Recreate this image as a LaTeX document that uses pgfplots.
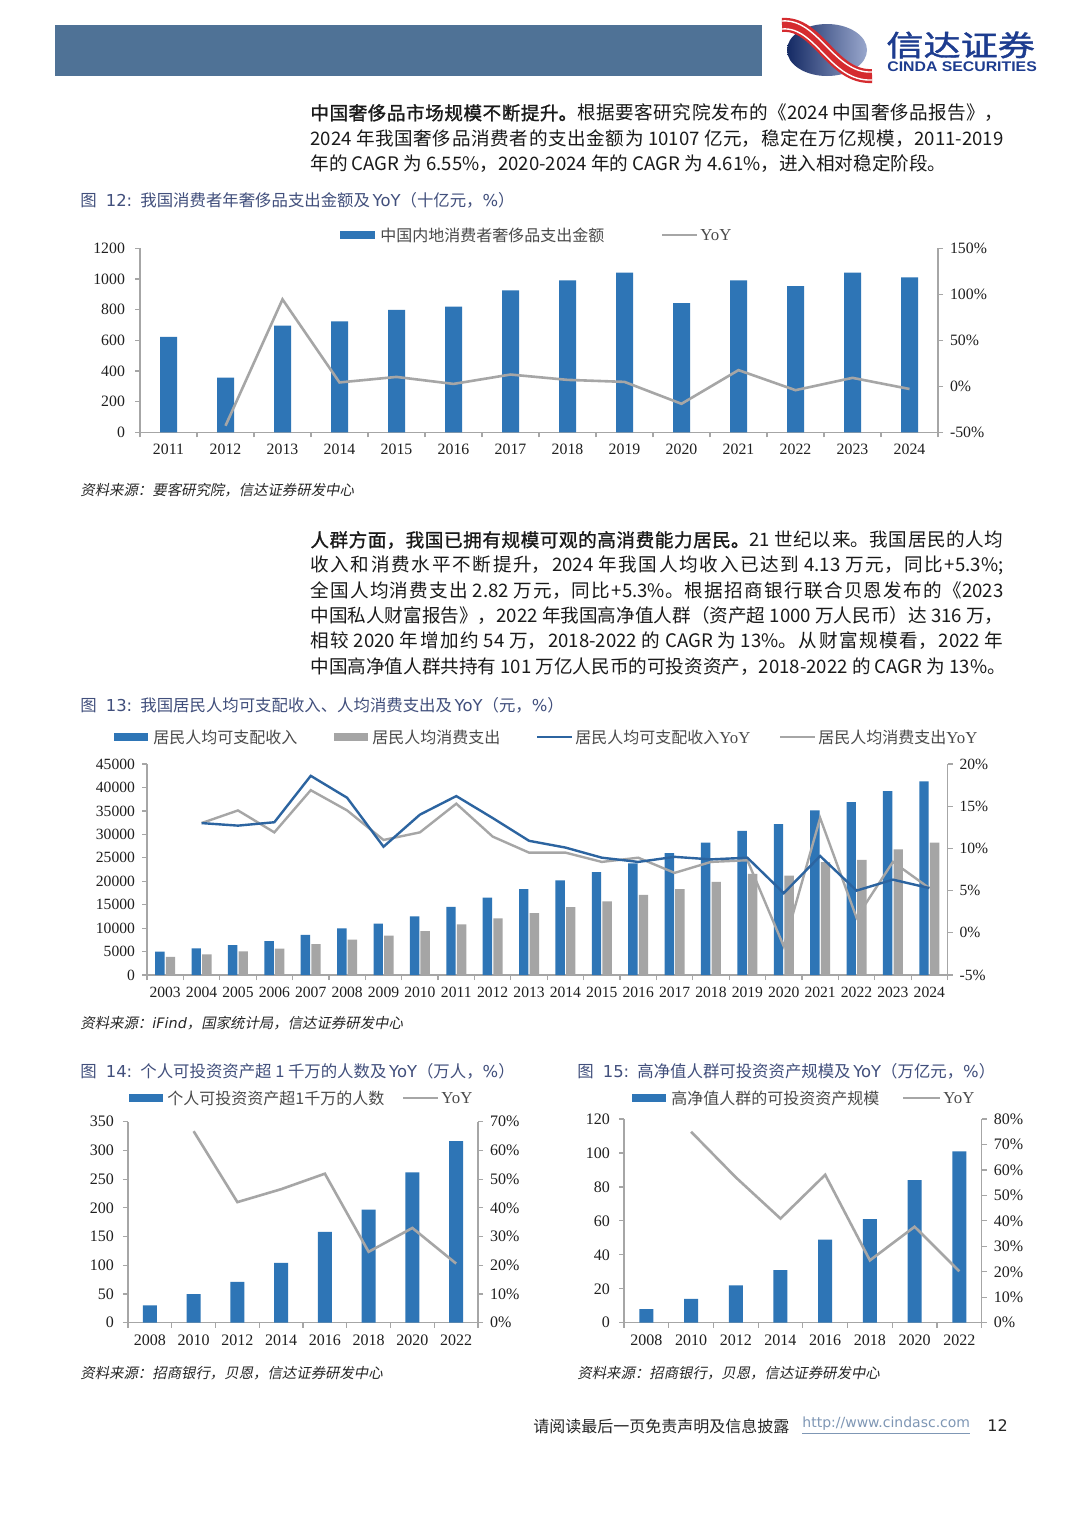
\documentclass[border=0pt]{standalone}
\usepackage{fontspec}
\usepackage{pgfplots}
\pgfplotsset{compat=1.18}
\setmainfont{Noto Sans CJK SC}
\newfontfamily\verd{DejaVu Sans}
\newfontfamily\tnr{Liberation Serif}
\newfontfamily\arial{Liberation Sans}
\newfontfamily\cjkb[FakeBold=1.3]{Noto Sans CJK SC}
\newfontfamily\cjkit[FakeSlant=0.2]{Noto Sans CJK SC}

\definecolor{barblue}{HTML}{2E75B6}
\definecolor{lineblue}{HTML}{2C64A0}
\definecolor{bargray}{HTML}{A5A5A5}
\definecolor{linegray}{HTML}{A6A6A6}
\definecolor{axgray}{HTML}{A6A6A6}
\definecolor{titleblue}{HTML}{414F7C}
\definecolor{headbar}{HTML}{4F7296}
\definecolor{logonavy}{HTML}{1D3C8F}
\definecolor{logored}{HTML}{D52B2F}
\definecolor{legtext}{HTML}{4A4A4A}
\definecolor{bodytext}{HTML}{1A1A1A}
\definecolor{urlcol}{HTML}{7F97B5}

\pgfplotsset{
  base/.style={scale only axis, clip=false,
    axis line style={draw=axgray, line width=0.6pt},
    tick style={draw=axgray, line width=0.6pt},
    tick align=outside, major tick length=2.5pt, minor tick length=2.5pt,
    scaled y ticks=false, scaled x ticks=false},
  leftax/.style={base, axis x line*=bottom, axis y line*=left,
    major x tick style={draw=none}, minor x tick style={draw=axgray, line width=0.6pt}},
  rightax/.style={base, axis y line*=right, axis x line=none},
}
\tikzset{
  bodyline/.style={anchor=west, inner sep=0pt, font=\fontsize{9.3}{11}\selectfont, text=bodytext},
  ttl/.style={anchor=west, inner sep=0pt, font=\fontsize{8.2}{10}\selectfont, text=titleblue},
  src/.style={anchor=west, inner sep=0pt, font=\cjkit\fontsize{7.2}{9}\selectfont, text=black!85},
  leg/.style={anchor=west, inner sep=0pt, font=\fontsize{8}{10}\selectfont, text=legtext},
}

\begin{document}
\XeTeXlinebreaklocale "zh"
\XeTeXlinebreakskip=0pt plus 3pt minus 0.2pt
\begin{tikzpicture}[x=0.5pt, y=-0.5pt]
\fill[white] (0,0) rectangle (1080,1527);
\useasboundingbox (0,0) rectangle (1080,1527);

% ---------- header ----------
\fill[headbar] (55,25) rectangle (762,76);
\shade[left color=logonavy!70!black, right color=logonavy!45!white] (827,50) ellipse (40 and 26);
\draw[logored, line width=7pt] (782,25) .. controls (818,22) and (832,78) .. (872,76);
\draw[white, line width=0.7pt] (782,21) .. controls (818,18) and (834,74) .. (872,72);
\draw[white, line width=0.7pt] (782,29) .. controls (816,26) and (830,82) .. (872,80);
\node[anchor=west, inner sep=0pt, text=logonavy, font=\cjkb\fontsize{14.5}{15}\selectfont] at (886,45) {\scalebox{1.28}[1]{信达证券}};
\node[anchor=west, inner sep=0pt, text=logonavy, font=\arial\bfseries\fontsize{7}{8}\selectfont] at (887,67) {\scalebox{1.13}[1]{CINDA SECURITIES}};

% ---------- paragraph 1 ----------
\node[bodyline, text width=346.5pt, align=justify] at (310,113) {\parfillskip=0pt\relax{\cjkb 中国奢侈品市场规模不断提升。}根据要客研究院发布的《2024 中国奢侈品报告》，\par};
\node[bodyline, text width=346.5pt, align=justify] at (310,139) {\parfillskip=0pt\relax 2024 年我国奢侈品消费者的支出金额为 10107 亿元，稳定在万亿规模，2011-2019\par};
\node[bodyline] at (310,164) {年的 CAGR 为 6.55\%，2020-2024 年的 CAGR 为 4.61\%，进入相对稳定阶段。};

% ---------- figure 12 ----------
\node[ttl] at (80,200) {图\hspace{0.55em}{\verd 12:}\hspace{0.5em}我国消费者年奢侈品支出金额及{\verd\,YoY}（十亿元，{\verd\%}）};
\fill[barblue] (340,231) rectangle (375,239);
\node[leg] at (380,235) {中国内地消费者奢侈品支出金额};
\draw[linegray, line width=1.3pt] (662,235) -- (697,235);
\node[leg, font=\tnr\fontsize{8.4}{10}\selectfont] at (700,235) {YoY};

\coordinate (o12) at (140,432.3);
\begin{axis}[leftax, at={(o12)}, anchor=south west, width=399pt, height=92pt,
  xmin=-0.5, xmax=13.5, ymin=0, ymax=1200,
  xtick={0,...,13}, xticklabels={2011,2012,2013,2014,2015,2016,2017,2018,2019,2020,2021,2022,2023,2024},
  minor xtick={-0.5,0.5,...,13.5},
  ytick={0,200,...,1200}, yticklabels={0,200,400,600,800,1000,1200},
  ticklabel style={font=\tnr\fontsize{7.9}{9}\selectfont, text=black!88},
  yticklabel style={xshift=-1.5pt},
  ybar, bar width=8.5pt]
\addplot[fill=barblue, draw=none] coordinates {(0,623) (1,356) (2,695) (3,724) (4,798) (5,819) (6,926) (7,991) (8,1041) (9,843) (10,991) (11,954) (12,1041) (13,1011)};
\end{axis}
\begin{axis}[rightax, at={(o12)}, anchor=south west, width=399pt, height=92pt,
  xmin=-0.5, xmax=13.5, ymin=-50, ymax=150,
  ytick={-50,0,50,100,150}, yticklabels={-50\%,0\%,50\%,100\%,150\%},
  ticklabel style={font=\tnr\fontsize{7.9}{9}\selectfont, text=black!88}]
\addplot[linegray, line width=1.3pt, mark=none] coordinates {(1,-42.9) (2,94.5) (3,4.2) (4,10.2) (5,2.6) (6,12.8) (7,7.0) (8,4.8) (9,-19.0) (10,17.6) (11,-4.2) (12,9.2) (13,-2.9)};
\end{axis}
\node[src] at (80,490) {资料来源：要客研究院，信达证券研发中心};

% ---------- paragraph 2 ----------
\node[bodyline, text width=346.5pt, align=justify] at (310,540) {\parfillskip=0pt\relax{\cjkb 人群方面，我国已拥有规模可观的高消费能力居民。}21 世纪以来。我国居民的人均\par};
\node[bodyline, text width=346.5pt, align=justify] at (310,565) {\parfillskip=0pt\relax 收入和消费水平不断提升，2024 年我国人均收入已达到 4.13 万元，同比+5.3\%;\par};
\node[bodyline, text width=346.5pt, align=justify] at (310,591) {\parfillskip=0pt\relax 全国人均消费支出 2.82 万元，同比+5.3\%。根据招商银行联合贝恩发布的《2023\par};
\node[bodyline, text width=346.5pt, align=justify] at (310,616) {\parfillskip=0pt\relax 中国私人财富报告》，2022 年我国高净值人群（资产超 1000 万人民币）达 316 万，\par};
\node[bodyline, text width=346.5pt, align=justify] at (310,641) {\parfillskip=0pt\relax 相较 2020 年增加约 54 万，2018-2022 的 CAGR 为 13\%。从财富规模看，2022 年\par};
\node[bodyline] at (310,667) {中国高净值人群共持有 101 万亿人民币的可投资资产，2018-2022 的 CAGR 为 13\%。};

% ---------- figure 13 ----------
\node[ttl] at (80,705) {图\hspace{0.55em}{\verd 13:}\hspace{0.5em}我国居民人均可支配收入、人均消费支出及{\verd\,YoY}（元，{\verd\%}）};
\fill[barblue] (114,733) rectangle (148,741);
\node[leg] at (153,737) {居民人均可支配收入};
\fill[bargray] (334,733) rectangle (368,741);
\node[leg] at (372,737) {居民人均消费支出};
\draw[lineblue, line width=1.2pt] (537,737) -- (572,737);
\node[leg] at (575,737) {居民人均可支配收入{\tnr\fontsize{8.4}{10}\selectfont YoY}};
\draw[linegray, line width=1.2pt] (780,737) -- (815,737);
\node[leg] at (818,737) {居民人均消费支出{\tnr\fontsize{8.4}{10}\selectfont YoY}};

\coordinate (o13) at (147,975);
\begin{axis}[leftax, at={(o13)}, anchor=south west, width=400.25pt, height=105.5pt,
  xmin=-0.5, xmax=21.5, ymin=0, ymax=45000,
  xtick={0,...,21}, xticklabels={2003,2004,2005,2006,2007,2008,2009,2010,2011,2012,2013,2014,2015,2016,2017,2018,2019,2020,2021,2022,2023,2024},
  minor xtick={-0.5,0.5,...,21.5},
  ytick={0,5000,...,45000}, yticklabels={0,5000,10000,15000,20000,25000,30000,35000,40000,45000},
  ticklabel style={font=\tnr\fontsize{7.8}{9}\selectfont, text=black!88},
  ybar=0.6pt, bar width=4.7pt]
\addplot[fill=barblue, draw=none] coordinates {(0,5007) (1,5661) (2,6385) (3,7229) (4,8584) (5,9957) (6,10977) (7,12520) (8,14551) (9,16510) (10,18311) (11,20167) (12,21966) (13,23821) (14,25974) (15,28228) (16,30733) (17,32189) (18,35128) (19,36883) (20,39218) (21,41314)};
\addplot[fill=bargray, draw=none] coordinates {(0,3889) (1,4395) (2,5035) (3,5634) (4,6592) (5,7548) (6,8377) (7,9378) (8,10820) (9,12054) (10,13220) (11,14491) (12,15712) (13,17111) (14,18322) (15,19853) (16,21559) (17,21210) (18,24100) (19,24538) (20,26796) (21,28227)};
\end{axis}
\begin{axis}[rightax, at={(o13)}, anchor=south west, width=400.25pt, height=105.5pt,
  xmin=-0.5, xmax=21.5, ymin=-5, ymax=20,
  ytick={-5,0,5,10,15,20}, yticklabels={-5\%,0\%,5\%,10\%,15\%,20\%},
  ticklabel style={font=\tnr\fontsize{7.8}{9}\selectfont, text=black!88}]
\addplot[linegray, line width=1.2pt, mark=none] coordinates {(1,13.0) (2,14.5) (3,11.9) (4,16.9) (5,14.5) (6,11.0) (7,11.9) (8,15.3) (9,11.4) (10,9.5) (11,9.5) (12,8.4) (13,8.9) (14,7.1) (15,8.4) (16,8.6) (17,-1.6) (18,13.6) (19,1.8) (20,8.4) (21,5.3)};
\addplot[lineblue, line width=1.2pt, mark=none] coordinates {(1,13.0) (2,12.7) (3,13.1) (4,18.6) (5,16.0) (6,10.2) (7,14.0) (8,16.2) (9,13.6) (10,10.9) (11,10.1) (12,8.9) (13,8.4) (14,9.0) (15,8.7) (16,8.9) (17,4.7) (18,9.1) (19,5.0) (20,6.3) (21,5.3)};
\end{axis}
\node[src] at (80,1023) {资料来源：{\verd\itshape\fontsize{7.2}{9}\selectfont iFind}，国家统计局，信达证券研发中心};

% ---------- figure 14 ----------
\node[ttl] at (80,1071) {图\hspace{0.55em}{\verd 14:}\hspace{0.5em}个人可投资资产超 1 千万的人数及{\verd\,YoY}（万人，{\verd\%}）};
\fill[barblue] (129,1094) rectangle (163,1102);
\node[leg] at (167,1098) {个人可投资资产超1千万的人数};
\draw[linegray, line width=1.3pt] (403,1098) -- (438,1098);
\node[leg, font=\tnr\fontsize{8.4}{10}\selectfont] at (441,1098) {YoY};

\coordinate (o14) at (128,1322.7);
\begin{axis}[leftax, at={(o14)}, anchor=south west, width=175pt, height=100.5pt,
  xmin=-0.5, xmax=7.5, ymin=0, ymax=350,
  xtick={0,...,7}, xticklabels={2008,2010,2012,2014,2016,2018,2020,2022},
  minor xtick={-0.5,0.5,...,7.5},
  ytick={0,50,...,350}, yticklabels={0,50,100,150,200,250,300,350},
  ticklabel style={font=\tnr\fontsize{8}{9}\selectfont, text=black!88},
  yticklabel style={xshift=-1pt},
  ybar, bar width=7pt]
\addplot[fill=barblue, draw=none] coordinates {(0,30) (1,50) (2,71) (3,104) (4,158) (5,197) (6,262) (7,316)};
\end{axis}
\begin{axis}[rightax, at={(o14)}, anchor=south west, width=175pt, height=100.5pt,
  xmin=-0.5, xmax=7.5, ymin=0, ymax=70,
  ytick={0,10,...,70}, yticklabels={0\%,10\%,20\%,30\%,40\%,50\%,60\%,70\%},
  ticklabel style={font=\tnr\fontsize{8}{9}\selectfont, text=black!88}]
\addplot[linegray, line width=1.3pt, mark=none] coordinates {(1,66.7) (2,42.0) (3,46.5) (4,51.9) (5,24.7) (6,33.0) (7,20.6)};
\end{axis}
\node[src] at (80,1373) {资料来源：招商银行，贝恩，信达证券研发中心};

% ---------- figure 15 ----------
\node[ttl] at (577,1071) {图\hspace{0.55em}{\verd 15:}\hspace{0.5em}高净值人群可投资资产规模及{\verd\,YoY}（万亿元，{\verd\%}）};
\fill[barblue] (632,1094) rectangle (666,1102);
\node[leg] at (671,1098) {高净值人群的可投资资产规模};
\draw[linegray, line width=1.3pt] (903,1098) -- (940,1098);
\node[leg, font=\tnr\fontsize{8.4}{10}\selectfont] at (943,1098) {YoY};

\coordinate (o15) at (624,1322.7);
\begin{axis}[leftax, at={(o15)}, anchor=south west, width=178.85pt, height=101.85pt,
  xmin=-0.5, xmax=7.5, ymin=0, ymax=120,
  xtick={0,...,7}, xticklabels={2008,2010,2012,2014,2016,2018,2020,2022},
  minor xtick={-0.5,0.5,...,7.5},
  ytick={0,20,...,120}, yticklabels={0,20,40,60,80,100,120},
  ticklabel style={font=\tnr\fontsize{8}{9}\selectfont, text=black!88},
  yticklabel style={xshift=-1pt},
  ybar, bar width=7pt]
\addplot[fill=barblue, draw=none] coordinates {(0,8) (1,14) (2,22) (3,31) (4,49) (5,61) (6,84) (7,101)};
\end{axis}
\begin{axis}[rightax, at={(o15)}, anchor=south west, width=178.85pt, height=101.85pt,
  xmin=-0.5, xmax=7.5, ymin=0, ymax=80,
  ytick={0,10,...,80}, yticklabels={0\%,10\%,20\%,30\%,40\%,50\%,60\%,70\%,80\%},
  ticklabel style={font=\tnr\fontsize{8}{9}\selectfont, text=black!88}]
\addplot[linegray, line width=1.3pt, mark=none] coordinates {(1,75.0) (2,57.1) (3,40.9) (4,58.1) (5,24.5) (6,37.7) (7,20.2)};
\end{axis}
\node[src] at (577,1373) {资料来源：招商银行，贝恩，信达证券研发中心};

% ---------- footer ----------
\node[anchor=west, inner sep=0pt, font=\fontsize{8}{10}\selectfont, text=black!85] at (533,1426) {请阅读最后一页免责声明及信息披露};
\node[anchor=west, inner sep=0pt, font=\verd\fontsize{7}{9}\selectfont, text=urlcol] at (802,1426) {\underline{http://www.cindasc.com}};
\node[anchor=west, inner sep=0pt, font=\verd\fontsize{8}{10}\selectfont, text=black!85] at (987,1426) {12};
\end{tikzpicture}
\end{document}
